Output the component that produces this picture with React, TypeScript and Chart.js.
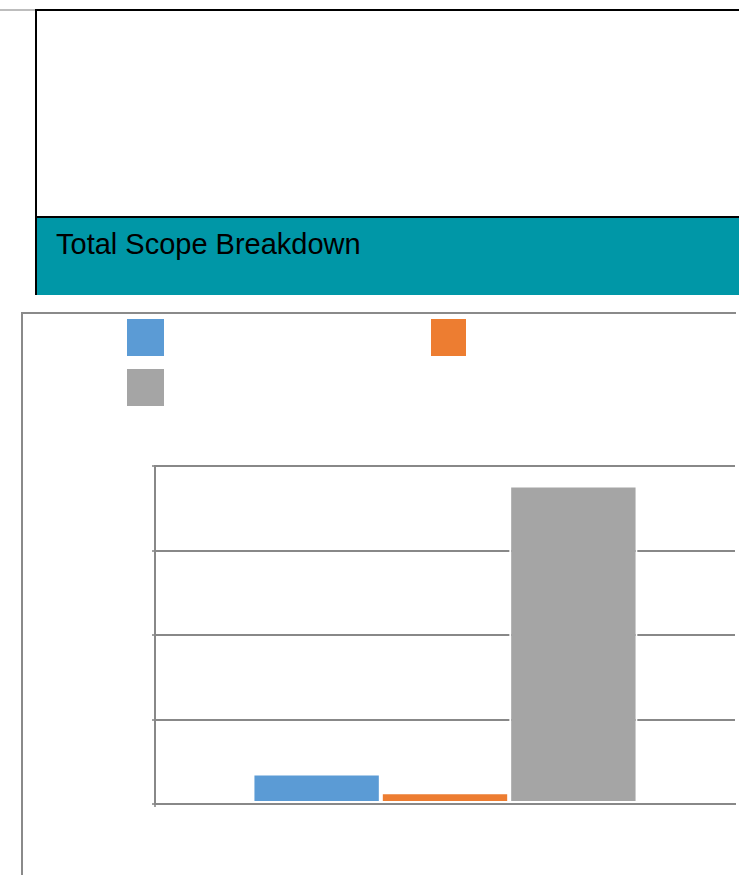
import React, { useEffect, useRef } from "react";
import { Chart, registerables } from "chart.js";

Chart.register(...registerables);

const title = "Total Scope Breakdown";
const categories = [""];
const seriesLabels = ["Series 1", "Series 2", "Series 3"];
const seriesColors = ["#5B9BD5", "#ED7D31", "#A5A5A5"];
const seriesValues = [[9.0], [3.5], [94.2]];
const yMin = 0;
const yMax = 100;
const yStep = 25;

const GRID = "#888888";

export default function App() {
  const ref = useRef<HTMLCanvasElement | null>(null);

  useEffect(() => {
    if (!ref.current) return;
    const chart = new Chart(ref.current, {
      type: "bar",
      data: {
        labels: categories,
        datasets: seriesLabels.map((label, i) => ({
          label,
          data: seriesValues[i],
          backgroundColor: seriesColors[i],
          borderColor: "#ffffff",
          borderWidth: 2,
          borderSkipped: false,
          barPercentage: 1,
          categoryPercentage: 0.664,
        })),
      },
      options: {
        animation: false,
        responsive: false,
        maintainAspectRatio: false,
        layout: { padding: { left: 121, right: 4, top: 152, bottom: 61 } },
        plugins: {
          legend: { display: false },
          tooltip: { enabled: false },
          title: { display: false },
        },
        scales: {
          x: {
            ticks: { display: false },
            grid: {
              display: true,
              drawOnChartArea: false,
              drawTicks: true,
              tickLength: 3,
              color: (ctx: any) => (ctx.index === 0 ? "#a0a0a0" : "rgba(0,0,0,0)"),
              lineWidth: 2,
            },
            border: { display: true, color: GRID, width: 2 },
            afterFit: (s: any) => {
              s.height = 10;
            },
          },
          y: {
            min: yMin,
            max: yMax,
            ticks: { display: false, stepSize: yStep },
            grid: {
              color: GRID,
              lineWidth: 2,
              drawTicks: true,
              tickLength: 3,
              tickColor: "#a0a0a0",
            },
            border: { display: true, color: GRID, width: 2 },
            afterFit: (s: any) => {
              s.width = 10;
            },
          },
        },
      },
    });
    return () => chart.destroy();
  }, []);

  const legendPos = [
    { left: 127, top: 319, w: 37, h: 37 },
    { left: 431, top: 319, w: 35, h: 37 },
    { left: 127, top: 369, w: 37, h: 37 },
  ];

  return (
    <div
      style={{
        position: "absolute",
        left: 0,
        top: 0,
        width: 739,
        height: 875,
        overflow: "hidden",
        background: "#ffffff",
        fontFamily: "'Liberation Sans', Arial, sans-serif",
      }}
    >
      <div style={{ position: "absolute", left: 0, top: 9, width: 35, height: 2, background: "#bdbdbd" }} />
      <div
        style={{
          position: "absolute",
          left: 35,
          top: 9,
          width: 720,
          height: 284,
          borderLeft: "2px solid #000",
          borderTop: "2px solid #000",
          background: "#ffffff",
        }}
      />
      <div style={{ position: "absolute", left: 37, top: 216, width: 720, height: 2, background: "#000" }} />
      <div style={{ position: "absolute", left: 37, top: 218, width: 720, height: 77, background: "#0097A7" }} />
      <div
        style={{
          position: "absolute",
          left: 56,
          top: 228,
          fontSize: 29,
          lineHeight: "32px",
          color: "#000",
          whiteSpace: "nowrap",
        }}
      >
        {title}
      </div>
      <div
        style={{
          position: "absolute",
          left: 21,
          top: 312,
          width: 713,
          height: 600,
          borderLeft: "2px solid #8a8a8a",
          borderTop: "2px solid #8a8a8a",
        }}
      />
      {legendPos.map((p, i) => (
        <div
          key={seriesLabels[i]}
          title={seriesLabels[i]}
          style={{
            position: "absolute",
            left: p.left,
            top: p.top,
            width: p.w,
            height: p.h,
            background: seriesColors[i],
          }}
        />
      ))}
      <canvas
        ref={ref}
        width={715}
        height={561}
        style={{ position: "absolute", left: 24, top: 314, width: 715, height: 561 }}
      />
    </div>
  );
}
